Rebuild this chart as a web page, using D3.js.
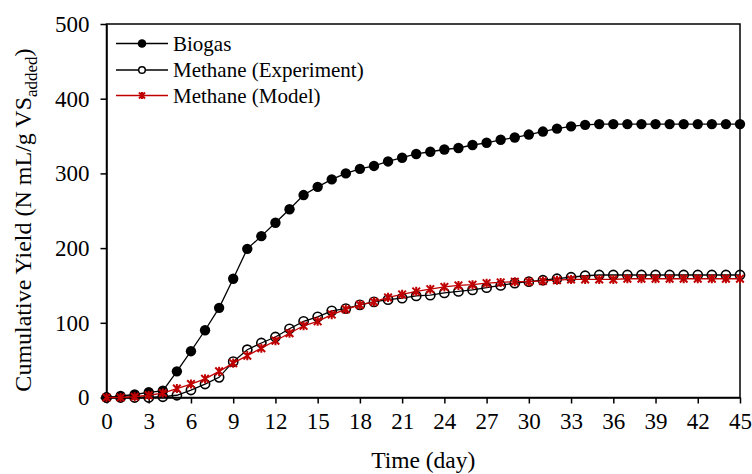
<!DOCTYPE html>
<html>
<head>
<meta charset="utf-8">
<script src="https://cdn.jsdelivr.net/npm/d3@7"></script>
<style>
  body { margin: 0; background: #fff; }
</style>
</head>
<body>
<svg id="chart" width="752" height="474"></svg>
<script>
// --- Data ---
const days = d3.range(0, 46);
const biogas = [0, 2, 4, 7, 9, 35, 62, 90, 120, 159, 199, 216, 234, 252, 271, 282, 292, 300, 306, 310,
  316, 321, 326, 329, 332, 334, 338, 341, 345, 348, 352, 356, 360, 363, 365, 366, 366, 366, 366, 366,
  366, 366, 366, 366, 366, 366];
const methaneExp = [0, 0, 0, 0, 1, 3, 10, 18, 27, 48, 64, 73, 81, 92, 102, 108, 116, 119, 124, 128,
  131, 133, 136, 137, 140, 142, 144, 147, 150, 153, 155, 157, 159, 161, 163, 164, 164, 164, 164, 164,
  164, 164, 164, 164, 164, 164];
const methaneModel = [0, 0, 1, 3, 6, 12, 18, 25, 35, 46, 56, 66, 76, 86, 96, 102, 111, 118, 124, 128,
  134, 138, 142, 145, 148, 150, 151, 153, 154, 155, 155, 156, 157, 158, 158, 158, 158, 159, 159, 159,
  159, 159, 159, 159, 159, 159];
const xTicks = d3.range(0, 46, 3);
const yTicks = [0, 100, 200, 300, 400, 500];
const legendLabels = ["Biogas", "Methane (Experiment)", "Methane (Model)"];

const red = '#c00000';
const serif = '"Liberation Serif", "Times New Roman", Times, "DejaVu Serif", serif';
const svg = d3.select('#chart');
const plotL = 106.5, plotR = 740, plotT = 24, plotB = 397.5;

const x = d3.scaleLinear().domain([0, 45]).range([plotL, plotR]);
const y = d3.scaleLinear().domain([0, 500]).range([plotB, plotT]);

// frame
svg.append('rect')
  .attr('x', plotL).attr('y', plotT)
  .attr('width', plotR - plotL).attr('height', plotB - plotT)
  .attr('fill', 'none').attr('stroke', '#000').attr('stroke-width', 1.5);

// axes
const xAxis = svg.append('g')
  .attr('transform', `translate(0,${plotB})`)
  .call(d3.axisBottom(x).tickValues(xTicks).tickSize(6).tickPadding(9).tickSizeOuter(0));
const yAxis = svg.append('g')
  .attr('transform', `translate(${plotL},0)`)
  .call(d3.axisLeft(y).tickValues(yTicks).tickSize(6).tickPadding(11).tickSizeOuter(0));
[xAxis, yAxis].forEach(a => {
  a.attr('font-family', serif).attr('font-size', 23);
  a.select('.domain').attr('stroke', '#000').attr('stroke-width', 1.5);
  a.selectAll('.tick line').attr('stroke', '#000').attr('stroke-width', 1.5);
  a.selectAll('.tick text').attr('fill', '#000');
});

// axis titles
svg.append('text')
  .attr('x', (plotL + plotR) / 2).attr('y', 468)
  .attr('text-anchor', 'middle').attr('font-family', serif).attr('font-size', 23.5)
  .text('Time (day)');
const yt = svg.append('text')
  .attr('transform', 'translate(31,220) rotate(-90)')
  .attr('text-anchor', 'middle').attr('font-family', serif).attr('font-size', 24);
yt.append('tspan').text('Cumulative Yield (N mL/g VS');
yt.append('tspan').attr('dy', 6).attr('font-size', 17).text('added');
yt.append('tspan').attr('dy', -6).text(')');

const line = d3.line().x((d, i) => x(days[i])).y(d => y(d));

function star(g, cx, cy, s) {
  const p = `M${cx - s},${cy - s}L${cx + s},${cy + s}M${cx - s},${cy + s}L${cx + s},${cy - s}` +
    `M${cx},${cy - s * 1.2}L${cx},${cy + s * 1.2}`;
  g.append('path').attr('d', p).attr('stroke', red).attr('stroke-width', 2).attr('fill', 'none');
}

// biogas
svg.append('path').datum(biogas).attr('d', line)
  .attr('fill', 'none').attr('stroke', '#000').attr('stroke-width', 1.3);
svg.append('g').selectAll('circle').data(biogas).join('circle')
  .attr('cx', (d, i) => x(days[i])).attr('cy', d => y(d)).attr('r', 5.2).attr('fill', '#000');

// methane experiment
svg.append('path').datum(methaneExp).attr('d', line)
  .attr('fill', 'none').attr('stroke', '#000').attr('stroke-width', 1.3);
svg.append('g').selectAll('circle').data(methaneExp).join('circle')
  .attr('cx', (d, i) => x(days[i])).attr('cy', d => y(d)).attr('r', 4.6)
  .attr('fill', 'none').attr('stroke', '#000').attr('stroke-width', 1.6);

// methane model
svg.append('path').datum(methaneModel).attr('d', line)
  .attr('fill', 'none').attr('stroke', red).attr('stroke-width', 1.3);
const mg = svg.append('g');
methaneModel.forEach((d, i) => star(mg, x(days[i]), y(d), 3.8));

// legend
const lg = svg.append('g');
const ly = [43.5, 70, 95.5];
legendLabels.forEach((lab, i) => {
  const col = i === 2 ? red : '#000';
  lg.append('line').attr('x1', 116).attr('x2', 168).attr('y1', ly[i]).attr('y2', ly[i])
    .attr('stroke', col).attr('stroke-width', 1.3);
  if (i === 0) lg.append('circle').attr('cx', 142).attr('cy', ly[i]).attr('r', 4.3).attr('fill', '#000');
  if (i === 1) lg.append('circle').attr('cx', 142).attr('cy', ly[i]).attr('r', 3.3)
    .attr('fill', '#fff').attr('stroke', '#000').attr('stroke-width', 1.5);
  if (i === 2) star(lg, 142, ly[i], 3);
  lg.append('text').attr('x', 173).attr('y', ly[i] + 7)
    .attr('font-family', serif).attr('font-size', 21).attr('fill', '#000').text(lab);
});
</script>
</body>
</html>
